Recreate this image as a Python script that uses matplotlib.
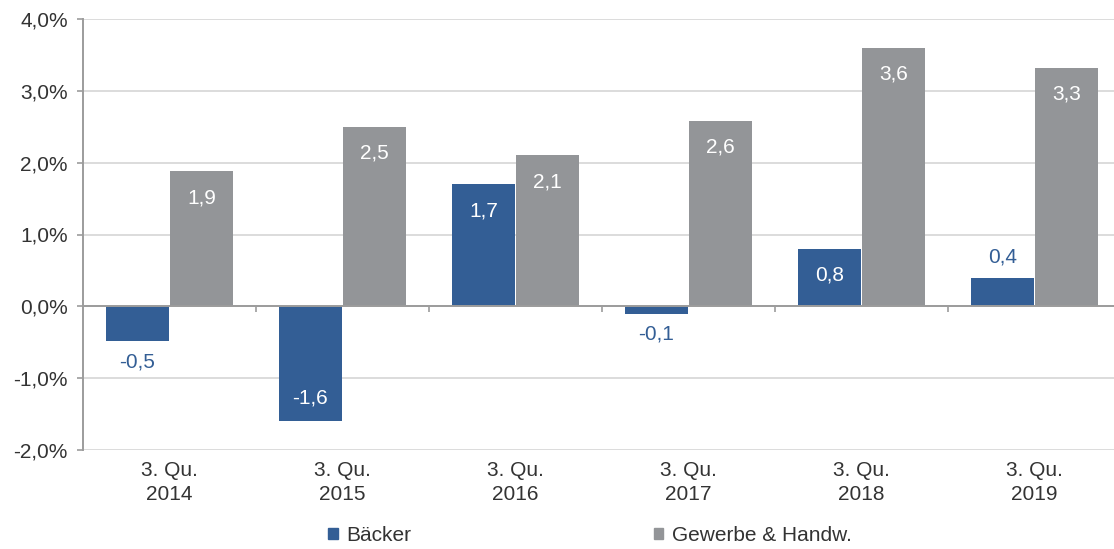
from matplotlib import pyplot as plt
from matplotlib.patches import Patch
from matplotlib.ticker import FuncFormatter, FixedLocator
import matplotlib.transforms as mtransforms
import numpy as np

plt.rcParams['font.family'] = ['Liberation Sans', 'DejaVu Sans']

# Daten
kategorien = ["3. Qu.\n2014", "3. Qu.\n2015", "3. Qu.\n2016",
              "3. Qu.\n2017", "3. Qu.\n2018", "3. Qu.\n2019"]
baecker = [-0.48, -1.6, 1.7, -0.1, 0.8, 0.4]
baecker_label = ["-0,5", "-1,6", "1,7", "-0,1", "0,8", "0,4"]
gewerbe = [1.88, 2.5, 2.1, 2.58, 3.6, 3.32]
gewerbe_label = ["1,9", "2,5", "2,1", "2,6", "3,6", "3,3"]

blau = "#335e95"
grau = "#939598"
text_farbe = "#333333"
achse = "#9c9c9c"
fs = 15

fig = plt.figure(figsize=(11.14, 5.49), dpi=100)
ax = fig.add_axes([83 / 1114, 99 / 549, 1038 / 1114, 431 / 549])

x = np.arange(len(kategorien))
breite = 0.36
ax.bar(x - 0.185, baecker, width=breite, color=blau, zorder=3)
ax.bar(x + 0.185, gewerbe, width=breite, color=grau, zorder=3)

ax.set_xlim(-0.5, 5.5)
ax.set_ylim(-2, 4)

# Beschriftungen der Balken
for xi, v, t in zip(x - 0.185, baecker, baecker_label):
    if abs(v) >= 0.8:
        off = -19 if v > 0 else 17
        ax.annotate(t, (xi, v), xytext=(0, off), textcoords="offset points",
                    ha="center", va="center", color="white", fontsize=fs, zorder=4)
    else:
        off = 15 if v > 0 else -15
        ax.annotate(t, (xi, v), xytext=(0, off), textcoords="offset points",
                    ha="center", va="center", color=blau, fontsize=fs, zorder=4)
for xi, v, t in zip(x + 0.185, gewerbe, gewerbe_label):
    ax.annotate(t, (xi, v), xytext=(0, -19), textcoords="offset points",
                ha="center", va="center", color="white", fontsize=fs, zorder=4)

# Achsen
ax.yaxis.set_major_locator(FixedLocator([-2, -1, 0, 1, 2, 3, 4]))
ax.yaxis.set_major_formatter(FuncFormatter(lambda v, p: f"{v:.1f}%".replace(".", ",")))
ax.tick_params(axis="y", labelsize=fs, labelcolor=text_farbe, color=achse,
               length=4, width=1.2, pad=7)
ax.grid(axis="y", color="#dcdcdc", linewidth=1.4, zorder=0)

for s in ["top", "right"]:
    ax.spines[s].set_visible(False)
ax.spines["left"].set_color(achse)
ax.spines["left"].set_linewidth(1.4)
ax.spines["bottom"].set_position(("data", 0))
ax.spines["bottom"].set_color(achse)
ax.spines["bottom"].set_linewidth(1.4)
ax.spines["bottom"].set_zorder(5)

ax.xaxis.set_major_locator(FixedLocator(x[:-1] + 0.5))
ax.tick_params(axis="x", labelbottom=False, color=achse, length=4, width=1.2)

trans = mtransforms.blended_transform_factory(ax.transData, ax.transAxes)
for xi, k in zip(x, kategorien):
    ax.annotate(k, (xi, 0), xycoords=trans, xytext=(0, -8), textcoords="offset points",
                ha="center", va="top", fontsize=fs, color=text_farbe, linespacing=1.3)

# Legende
handles = [Patch(color=blau, label="Bäcker"), Patch(color=grau, label="Gewerbe & Handw.")]
fig.legend(handles=handles, loc="lower center", bbox_to_anchor=(590 / 1114, -0.027),
           ncol=2, frameon=False, fontsize=fs, handlelength=0.45, handleheight=0.45,
           handletextpad=0.4, columnspacing=11.65, labelcolor=text_farbe)

plt.savefig("out.png", dpi=100)
